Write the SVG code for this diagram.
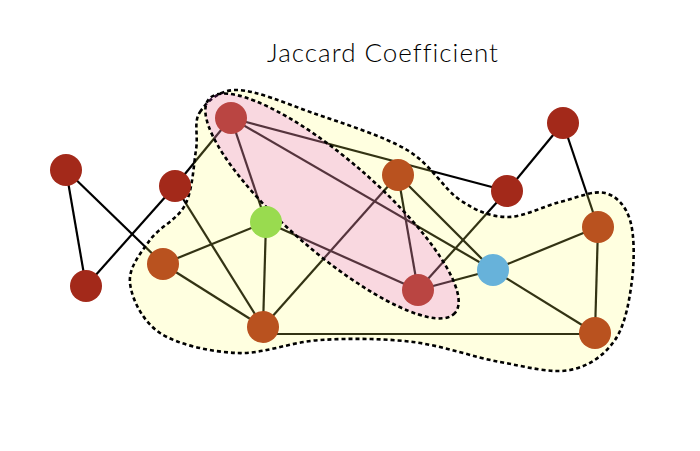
<svg xmlns="http://www.w3.org/2000/svg" width="700" height="451" viewBox="0 0 700 451">
<style>
.edge{stroke:#000;stroke-width:2.2;fill:none}
.region{stroke:#000;stroke-width:2.6;stroke-dasharray:4 3}
.n{stroke:none}
.dr{fill:#A3291A}
.pr{fill:#BA4542}
.or{fill:#B9521F}
.gr{fill:#99DB4F}
.bl{fill:#67B2DA}
.title{font-family:Lato,"Noto Sans",sans-serif;font-weight:300;font-size:26px;letter-spacing:1px;fill:#000;font-variant-ligatures:none}
</style>
<rect width="700" height="451" fill="#fff"/>
<text class="title" x="383" y="62" text-anchor="middle">Jaccard Coefficient</text>
<g id="connectors">
<line class="edge" x1="66" y1="170" x2="86" y2="286"/>
<line class="edge" x1="66" y1="170" x2="163" y2="264"/>
<line class="edge" x1="86" y1="286" x2="175" y2="186"/>
<line class="edge" x1="175" y1="186" x2="231" y2="118"/>
<line class="edge" x1="175" y1="186" x2="263" y2="327"/>
<line class="edge" x1="231" y1="118" x2="266" y2="222"/>
<line class="edge" x1="231" y1="118" x2="493" y2="270"/>
<line class="edge" x1="231" y1="118" x2="507" y2="191"/>
<line class="edge" x1="163" y1="264" x2="266" y2="222"/>
<line class="edge" x1="163" y1="264" x2="263" y2="327"/>
<line class="edge" x1="266" y1="222" x2="263" y2="327"/>
<line class="edge" x1="266" y1="222" x2="418" y2="290"/>
<line class="edge" x1="263" y1="327" x2="398" y2="175"/>
<line class="edge" x1="263" y1="334" x2="595" y2="334"/>
<line class="edge" x1="398" y1="175" x2="418" y2="290"/>
<line class="edge" x1="398" y1="175" x2="493" y2="270"/>
<line class="edge" x1="418" y1="290" x2="507" y2="191"/>
<line class="edge" x1="418" y1="290" x2="493" y2="270"/>
<line class="edge" x1="507" y1="191" x2="563" y2="123"/>
<line class="edge" x1="563" y1="123" x2="598" y2="227"/>
<line class="edge" x1="493" y1="270" x2="598" y2="227"/>
<line class="edge" x1="493" y1="270" x2="595" y2="333"/>
<line class="edge" x1="598" y1="227" x2="595" y2="333"/>
</g>
<g id="region-outer">
<path class="region" fill="rgb(255,255,100)" fill-opacity="0.2" d="M200,112 C206.8,102 218.2,89.8 237,90 C255.8,90.2 284.7,103 313,113 C341.3,123 382.5,135.5 407,150 C431.5,164.5 443.3,188.8 460,200 C476.7,211.2 490.3,216.7 507,217 C523.7,217.3 543.7,206 560,202 C576.3,198 593.3,190 605,193 C616.7,196 625.5,205.5 630,220 C634.5,234.5 634.5,260 632,280 C629.5,300 625.3,325 615,340 C604.7,355 589.2,366.3 570,370 C550.8,373.7 526.2,366.7 500,362 C473.8,357.3 443,345.7 413,342 C383,338.3 349.3,338.2 320,340 C290.7,341.8 263.7,354.2 237,353 C210.3,351.8 177.8,344.7 160,333 C142.2,321.3 131.7,298.5 130,283 C128.3,267.5 140.8,253 150,240 C159.2,227 177.3,220 185,205 C192.7,190 193.5,165.5 196,150 C198.5,134.5 193.2,122 200,112 Z"/>
</g>
<g id="region-inner">
<ellipse class="region" cx="332" cy="206" rx="163" ry="46" transform="rotate(41 332 206)" fill="rgb(225,60,224)" fill-opacity="0.2"/>
</g>
<g id="node-1"><circle class="n dr" cx="66" cy="170" r="16"/></g>
<g id="node-2"><circle class="n dr" cx="86" cy="286" r="16"/></g>
<g id="node-3"><circle class="n dr" cx="175" cy="186" r="16"/></g>
<g id="node-4"><circle class="n pr" cx="231" cy="118" r="16"/></g>
<g id="node-5"><circle class="n or" cx="163" cy="264" r="16"/></g>
<g id="node-6"><circle class="n gr" cx="266" cy="222" r="16"/></g>
<g id="node-7"><circle class="n or" cx="263" cy="327" r="16"/></g>
<g id="node-8"><circle class="n or" cx="398" cy="175" r="16"/></g>
<g id="node-9"><circle class="n pr" cx="418" cy="290" r="16"/></g>
<g id="node-10"><circle class="n dr" cx="507" cy="191" r="16"/></g>
<g id="node-11"><circle class="n dr" cx="563" cy="123" r="16"/></g>
<g id="node-12"><circle class="n bl" cx="493" cy="270" r="16"/></g>
<g id="node-13"><circle class="n or" cx="598" cy="227" r="16"/></g>
<g id="node-14"><circle class="n or" cx="595" cy="333" r="16"/></g>
</svg>
